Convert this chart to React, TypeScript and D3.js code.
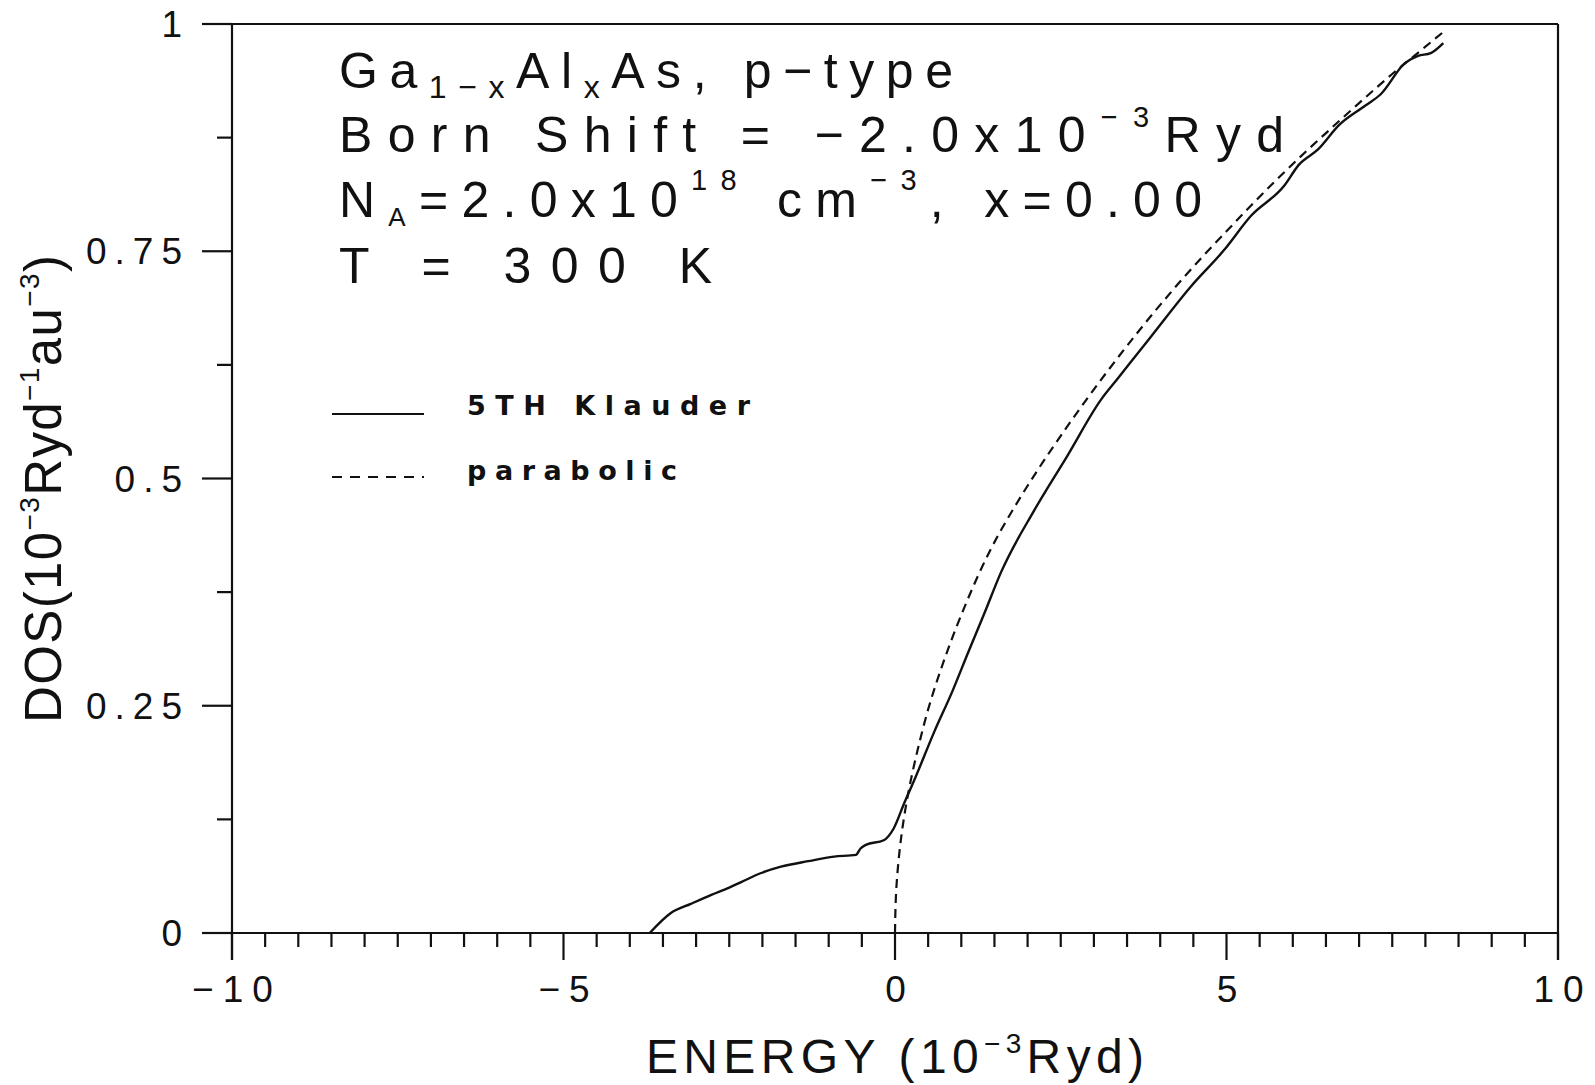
import React from 'react';
import * as d3 from 'd3';

// 5TH Klauder DOS curve (energy in 10^-3 Ryd, DOS)
const klauderE = [-3.7, -3.38, -3.08, -2.77, -2.5, -2.32, -2.02, -1.72, -1.31, -0.92, -0.59, -0.52, -0.44, -0.17, -0.02, 0.14, 0.29, 0.59, 0.86, 1.1, 1.35, 1.6, 2.1, 2.6, 3.11, 3.36, 3.86, 4.46, 4.96, 5.37, 5.87, 6.09, 6.38, 6.7, 7.09, 7.33, 7.69, 7.89, 8.08, 8.27];
const klauderDos = [0, 0.022, 0.032, 0.042, 0.05, 0.056, 0.066, 0.073, 0.079, 0.084, 0.086, 0.093, 0.097, 0.102, 0.115, 0.143, 0.168, 0.221, 0.265, 0.308, 0.352, 0.397, 0.465, 0.525, 0.587, 0.61, 0.656, 0.711, 0.751, 0.789, 0.822, 0.845, 0.862, 0.889, 0.91, 0.923, 0.957, 0.965, 0.968, 0.979];

// parabolic DOS curve
const paraE = [0, 0.02, 0.05, 0.1, 0.2, 0.35, 0.5, 0.75, 1, 1.5, 2, 2.5, 3, 3.5, 4, 4.5, 5, 5.5, 6, 6.5, 7, 7.5, 8, 8.3];
const paraDos = [0, 0.049, 0.077, 0.109, 0.154, 0.204, 0.246, 0.302, 0.35, 0.43, 0.492, 0.547, 0.598, 0.646, 0.691, 0.733, 0.772, 0.81, 0.846, 0.88, 0.913, 0.945, 0.975, 0.993];

const xMajor = [-10, -5, 0, 5, 10];
const xLabels = ['\u221210', '\u22125', '0', '5', '10'];
const yMajor = [0, 0.25, 0.5, 0.75, 1];
const yLabels = ['0', '0.25', '0.5', '0.75', '1'];

const FONT = '"Liberation Sans", Arial, sans-serif';

export default function App() {
  const x = d3.scaleLinear().domain([-10, 10]).range([232, 1558]);
  const y = d3.scaleLinear().domain([0, 1]).range([933, 24]);

  const xMinor = d3.range(-10, 10.001, 0.5).filter(v => !xMajor.includes(v));
  const yMinor = d3.range(0, 1.001, 0.125).filter(v => !yMajor.some(m => Math.abs(m - v) < 1e-6));

  const solid = d3.line<number>()
    .x(i => x(klauderE[i]))
    .y(i => y(klauderDos[i]))
    .curve(d3.curveMonotoneX);
  const dashed = d3.line<number>()
    .x(i => x(paraE[i]))
    .y(i => y(paraDos[i]))
    .curve(d3.curveMonotoneY);

  const x0 = x(-10), x1 = x(10), yb = y(0), yt = y(1);

  return (
    <svg width={1595} height={1085} style={{ position: 'absolute', left: 0, top: 0, background: '#fff' }}>
      <rect width={1595} height={1085} fill="#fff" />
      {/* frame */}
      <g stroke="#111" strokeWidth={2.2} fill="none">
        <line x1={x0 - 30} y1={yt} x2={x1} y2={yt} />
        <line x1={x1} y1={yt} x2={x1} y2={yb + 27} />
        <line x1={x0 - 30} y1={yb} x2={x1} y2={yb} />
        <line x1={x0} y1={yt} x2={x0} y2={yb + 27} />
        {xMajor.map(v => <line key={'xM' + v} x1={x(v)} x2={x(v)} y1={yb} y2={yb + 27} />)}
        {xMinor.map(v => <line key={'xm' + v} x1={x(v)} x2={x(v)} y1={yb} y2={yb + 14} />)}
        {yMajor.map(v => <line key={'yM' + v} x1={x0 - 30} x2={x0} y1={y(v)} y2={y(v)} />)}
        {yMinor.map(v => <line key={'ym' + v} x1={x0 - 15} x2={x0} y1={y(v)} y2={y(v)} />)}
      </g>

      {/* tick labels */}
      <g fontFamily={FONT} fontSize={37} fill="#111">
        {xMajor.map((v, i) => (
          <text key={'xl' + v} x={x(v) + 5} y={1002} textAnchor="middle" letterSpacing={9}>{xLabels[i]}</text>
        ))}
        {yMajor.map((v, i) => (
          <text key={'yl' + v} x={190} y={y(v) + 13} textAnchor="end" letterSpacing={8}>{yLabels[i]}</text>
        ))}
      </g>

      {/* axis titles */}
      <text x={895} y={1073} textAnchor="middle" fontFamily={FONT} fontSize={48} fill="#111" textLength={498} lengthAdjust="spacing">
        ENERGY (10<tspan dy={-20} fontSize={28}>{'\u22123'}</tspan><tspan dy={20}>Ryd)</tspan>
      </text>
      <text transform="translate(61,489) rotate(-90)" textAnchor="middle" fontFamily={FONT} fontSize={51} fill="#111" textLength={468} lengthAdjust="spacing">
        DOS(10<tspan dy={-22} fontSize={28}>{'\u22123'}</tspan><tspan dy={22}>Ryd</tspan><tspan dy={-22} fontSize={28}>{'\u22121'}</tspan><tspan dy={22}>au</tspan><tspan dy={-22} fontSize={28}>{'\u22123'}</tspan><tspan dy={22}>)</tspan>
      </text>

      {/* annotation */}
      <g fontFamily={FONT} fontSize={50} fill="#111">
        <text x={339} y={88} textLength={614} lengthAdjust="spacing">
          Ga<tspan dy={10} fontSize={32}>{'1\u2212x'}</tspan><tspan dy={-10}>Al</tspan><tspan dy={10} fontSize={32}>x</tspan><tspan dy={-10}>{'As,  p\u2212type'}</tspan>
        </text>
        <text x={339} y={152} textLength={945} lengthAdjust="spacing">
          {'Born  Shift  =  \u22122.0x10'}<tspan dy={-25} fontSize={29}>{'\u22123'}</tspan><tspan dy={25}>Ryd</tspan>
        </text>
        <text x={339} y={217} textLength={863} lengthAdjust="spacing">
          N<tspan dy={9} fontSize={26}>A</tspan><tspan dy={-9}>=2.0x10</tspan><tspan dy={-27} fontSize={29}>18</tspan><tspan dy={27}> cm</tspan><tspan dy={-27} fontSize={29}>{'\u22123'}</tspan><tspan dy={27}>{',  x=0.00'}</tspan>
        </text>
        <text x={339} y={283} textLength={373} lengthAdjust="spacing">
          {'T  =  300  K'}
        </text>
      </g>

      {/* legend */}
      <g stroke="#111" strokeWidth={2.2}>
        <line x1={332} x2={424} y1={414} y2={414} />
        <line x1={332} x2={424} y1={477} y2={477} strokeDasharray="10,8" />
      </g>
      <g fontFamily='"DejaVu Sans", sans-serif' fontWeight="bold" fontSize={27} fill="#111">
        <text x={467} y={415} textLength={283} lengthAdjust="spacing">5TH Klauder</text>
        <text x={467} y={480} textLength={210} lengthAdjust="spacing">parabolic</text>
      </g>

      {/* curves */}
      <path d={solid(d3.range(klauderE.length)) || ''} fill="none" stroke="#111" strokeWidth={2.4} strokeLinejoin="round" />
      <path d={dashed(d3.range(paraE.length)) || ''} fill="none" stroke="#111" strokeWidth={2.2} strokeDasharray="9,6" />
    </svg>
  );
}
